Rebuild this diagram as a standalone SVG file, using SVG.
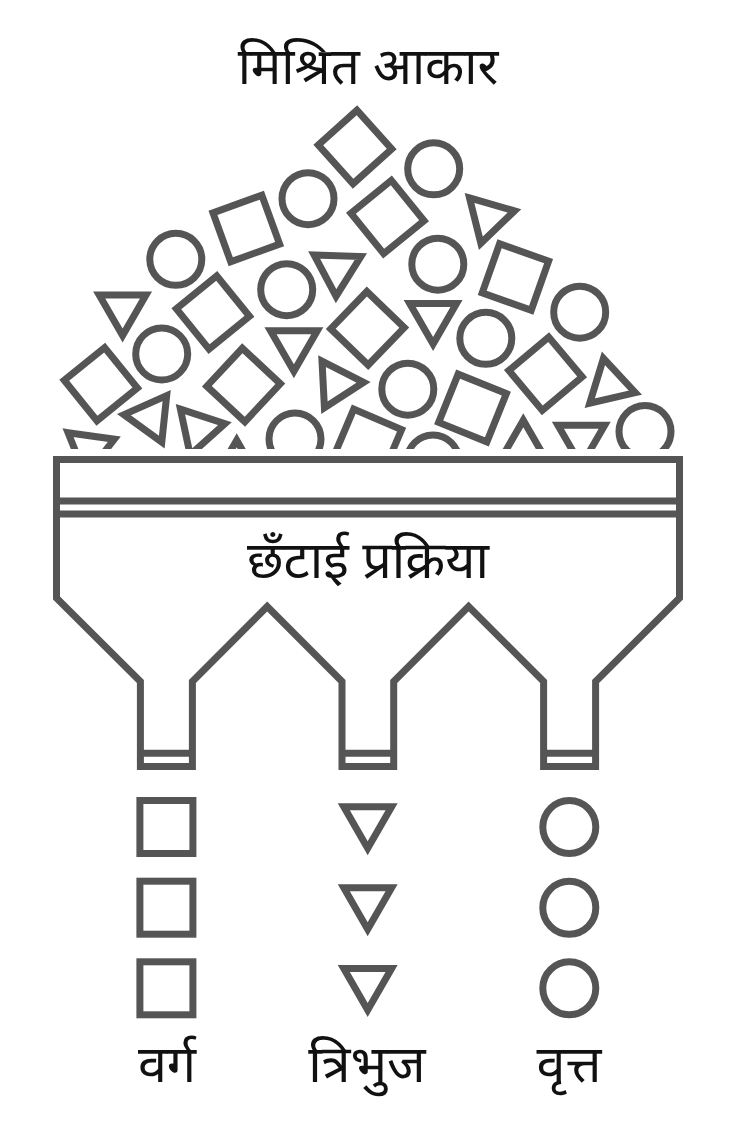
<svg xmlns="http://www.w3.org/2000/svg" width="736" height="1128" viewBox="0 0 736 1128">
<style>
.s{fill:none;stroke:#555;stroke-width:7;stroke-linejoin:miter;stroke-miterlimit:10}
.t{font-family:"Noto Sans Devanagari","Noto Sans","Lohit Devanagari",sans-serif;font-size:52px;fill:#111;text-anchor:middle;stroke:none}
</style>
<defs>
<rect id="sq" x="-26" y="-26" width="52" height="52"/>
<circle id="ci" r="26"/>
<polygon id="tr" points="-23.4,-13.5 23.4,-13.5 0,27"/>
<rect id="osq" x="-26.5" y="-26.5" width="53" height="53"/>
<circle id="oci" r="26.5"/>
<polygon id="otr" points="-23.9,-13.8 23.9,-13.8 0,27.6"/>
<clipPath id="pileclip"><rect x="0" y="0" width="736" height="449"/></clipPath>
</defs>
<rect width="736" height="1128" fill="#fff"/>
<g id="title"><text class="t" x="368" y="84" style="font-size:51px">मिश्रित आकार</text></g>
<g id="pile" class="s" clip-path="url(#pileclip)">
<use href="#sq" transform="translate(355,147) rotate(48)"/>
<use href="#sq" transform="translate(246.3,228.5) rotate(-20)"/>
<use href="#sq" transform="translate(212.9,312.5) rotate(51)"/>
<use href="#sq" transform="translate(100.8,384.2) rotate(51)"/>
<use href="#sq" transform="translate(243.6,385) rotate(43)"/>
<use href="#sq" transform="translate(387.5,217) rotate(51)"/>
<use href="#sq" transform="translate(515.4,277) rotate(19.5)"/>
<use href="#sq" transform="translate(367.5,328.3) rotate(44)"/>
<use href="#sq" transform="translate(545.5,373.7) rotate(50)"/>
<use href="#sq" transform="translate(472.5,408) rotate(22)"/>
<use href="#sq" transform="translate(367.5,443.3) rotate(23)"/>
<use href="#ci" x="308" y="198.7"/>
<use href="#ci" x="175.8" y="259.3"/>
<use href="#ci" x="286.7" y="289.7"/>
<use href="#ci" x="161.7" y="354"/>
<use href="#ci" x="295" y="439"/>
<use href="#ci" x="433.7" y="168.8"/>
<use href="#ci" x="437.8" y="264.2"/>
<use href="#ci" x="579.7" y="312.2"/>
<use href="#ci" x="485.8" y="338.3"/>
<use href="#ci" x="645" y="431.5"/>
<use href="#ci" x="407.8" y="389.2"/>
<use href="#ci" x="433" y="461"/>
<use href="#tr" transform="translate(337,269.2) rotate(2)"/>
<use href="#tr" transform="translate(122.6,308.6)"/>
<use href="#tr" transform="translate(293.9,344.3)"/>
<use href="#tr" transform="translate(336.7,383.7) rotate(-93)"/>
<use href="#tr" transform="translate(150.8,417.5) rotate(96)"/>
<use href="#tr" transform="translate(198.5,429.2) rotate(18)"/>
<use href="#tr" transform="translate(236.7,467.3) rotate(180)"/>
<use href="#tr" transform="translate(89.3,449.3) rotate(8)"/>
<use href="#tr" transform="translate(488.3,217.4) rotate(16)"/>
<use href="#tr" transform="translate(433.1,317.1)"/>
<use href="#tr" transform="translate(609.5,384.7) rotate(167)"/>
<use href="#tr" transform="translate(523.3,447.3) rotate(180)"/>
<use href="#tr" transform="translate(581.3,438.7)"/>
</g>
<g id="sorter" class="s">
<path d="M56.5,459.5 H679.5 V598 L595.6,681.5 V766.5 H543.6 V681.5 L468.6,606.5 L393.7,681.5 V766.5 H342 V681.5 L267.2,606.5 L192.4,681.5 V766.5 H140.4 V681.5 L56.5,598 Z"/>
<path d="M56.5,501 H679.5 M56.5,514 H679.5"/>
<path d="M140.4,753.3 H192.4 M342,753.3 H393.7 M543.6,753.3 H595.6"/>
<text class="t" x="368" y="578">छँटाई प्रक्रिया</text>
</g>
<g id="squares" class="s">
<use href="#osq" x="166.4" y="827"/>
<use href="#osq" x="166.4" y="907.7"/>
<use href="#osq" x="166.4" y="988.3"/>
<text class="t" x="167" y="1082">वर्ग</text>
</g>
<g id="triangles" class="s">
<use href="#otr" x="367.7" y="820.6"/>
<use href="#otr" x="367.7" y="901.6"/>
<use href="#otr" x="367.7" y="982.3"/>
<text class="t" x="367" y="1082">त्रिभुज</text>
</g>
<g id="circles" class="s">
<use href="#oci" x="569.3" y="827"/>
<use href="#oci" x="569.3" y="907.7"/>
<use href="#oci" x="569.3" y="988.3"/>
<text class="t" x="569" y="1082">वृत्त</text>
</g>
</svg>
